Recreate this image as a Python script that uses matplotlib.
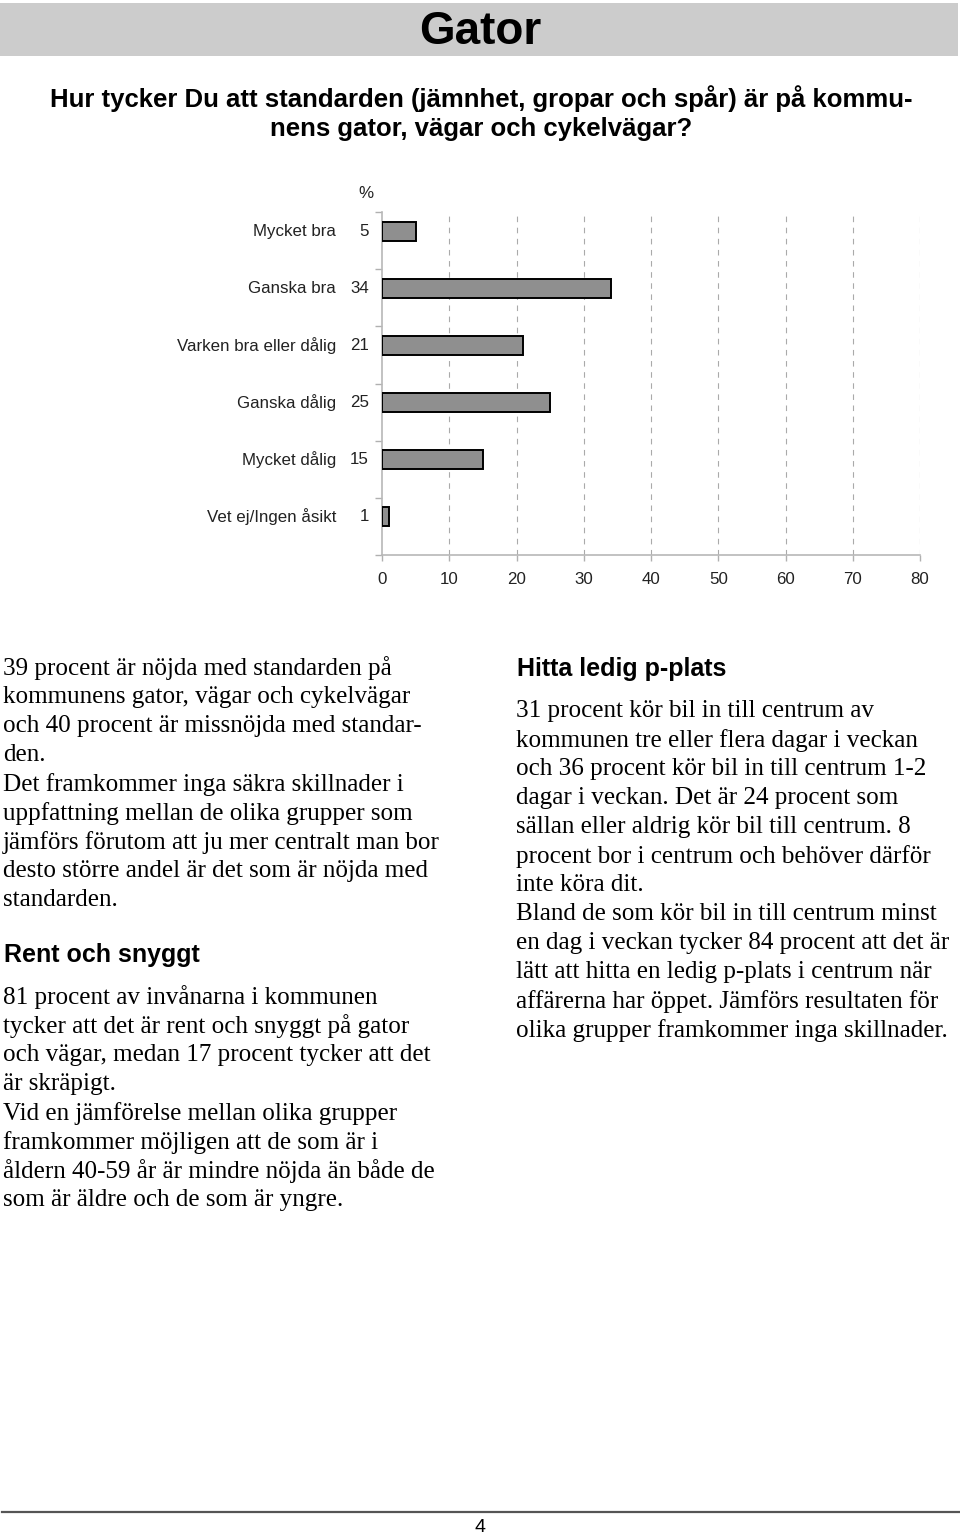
import matplotlib
matplotlib.use("Agg")
import matplotlib.pyplot as plt
from matplotlib.patches import Rectangle
from matplotlib.lines import Line2D
from matplotlib.transforms import blended_transform_factory
from matplotlib import font_manager

W, H = 960, 1537

# ---------------- data ----------------
categories = ["Mycket bra", "Ganska bra", "Varken bra eller dålig",
              "Ganska dålig", "Mycket dålig", "Vet ej/Ingen åsikt"]
values = [5, 34, 21, 25, 15, 1]
xticks = [0, 10, 20, 30, 40, 50, 60, 70, 80]

title = "Gator"
question = ["Hur tycker Du att standarden (jämnhet, gropar och spår) är på kommu-",
            "nens gator, vägar och cykelvägar?"]

left_par1 = ["39 procent är nöjda med standarden på",
             "kommunens gator, vägar och cykelvägar",
             "och 40 procent är missnöjda med standar-",
             "den.",
             "Det framkommer inga säkra skillnader i",
             "uppfattning mellan de olika grupper som",
             "jämförs förutom att ju mer centralt man bor",
             "desto större andel är det som är nöjda med",
             "standarden."]
left_heading = "Rent och snyggt"
left_par2 = ["81 procent av invånarna i kommunen",
             "tycker att det är rent och snyggt på gator",
             "och vägar, medan 17 procent tycker att det",
             "är skräpigt.",
             "Vid en jämförelse mellan olika grupper",
             "framkommer möjligen att de som är i",
             "åldern 40-59 år är mindre nöjda än både de",
             "som är äldre och de som är yngre."]
right_heading = "Hitta ledig p-plats"
right_par = ["31 procent kör bil in till centrum av",
             "kommunen tre eller flera dagar i veckan",
             "och 36 procent kör bil in till centrum 1-2",
             "dagar i veckan. Det är 24 procent som",
             "sällan eller aldrig kör bil till centrum. 8",
             "procent bor i centrum och behöver därför",
             "inte köra dit.",
             "Bland de som kör bil in till centrum minst",
             "en dag i veckan tycker 84 procent att det är",
             "lätt att hitta en ledig p-plats i centrum när",
             "affärerna har öppet. Jämförs resultaten för",
             "olika grupper framkommer inga skillnader."]
page_number = "4"

# ---------------- fonts ----------------
def has_font(name):
    try:
        font_manager.findfont(name, fallback_to_default=False)
        return True
    except Exception:
        return False

if has_font("Liberation Sans Narrow"):
    NARROW, T_SIZE, Q_SIZE = "Liberation Sans Narrow", 37, 21
elif has_font("DejaVu Sans Condensed"):
    NARROW, T_SIZE, Q_SIZE = "DejaVu Sans Condensed", 33, 18
else:
    NARROW, T_SIZE, Q_SIZE = "Liberation Sans", 33, 18.5
SANS = "Liberation Sans"
SERIF = "Liberation Serif"

fig = plt.figure(figsize=(W / 100, H / 100), dpi=100)

def fx(x):
    return x / W

def fy(y):
    return 1 - y / H

# ---------------- header ----------------
fig.patches.append(Rectangle((fx(0), fy(56)), fx(958), 53 / H,
                             transform=fig.transFigure, facecolor="#cccccc",
                             edgecolor="none", zorder=0))
fig.text(fx(480), fy(32), title, family=NARROW, weight="bold", fontsize=T_SIZE,
         ha="center", va="center")
fig.text(fx(481), fy(99), question[0], family=NARROW, weight="bold", fontsize=Q_SIZE,
         ha="center", va="center")
fig.text(fx(481), fy(129), question[1], family=NARROW, weight="bold", fontsize=Q_SIZE,
         ha="center", va="center")

# ---------------- chart ----------------
ax_left, ax_right, ax_top, ax_bottom = 382, 920, 212, 555
ax = fig.add_axes([fx(ax_left), fy(ax_bottom), (ax_right - ax_left) / W,
                   (ax_bottom - ax_top) / H])
n = len(categories)
ypos = list(range(n))
off = 0.166
ax.barh(ypos, values, height=0.33, color="#8f8f8f", edgecolor="black",
        linewidth=1.4, zorder=3)
ax.set_xlim(0, 80)
ax.set_ylim(n - 0.5 + off, -0.5 + off)
ax.set_xticks(xticks)
ax.set_xticklabels([str(t) for t in xticks], family=SANS, fontsize=12.2,
                   color="#222222")
ax.tick_params(axis="x", direction="out", length=4, width=1, color="#b0b0b0",
               pad=8)
ax.set_yticks([i - 0.5 + off for i in range(n + 1)])
ax.set_yticklabels([])
ax.tick_params(axis="y", direction="out", length=5, width=1, color="#b0b0b0")
for s in ["top", "right"]:
    ax.spines[s].set_visible(False)
for s in ["left", "bottom"]:
    ax.spines[s].set_color("#b8b8b8")
    ax.spines[s].set_linewidth(1.2)
for t in xticks[1:]:
    ax.axvline(t, color="#aaaaaa", linestyle=(0, (5, 5)), linewidth=0.8, zorder=1)

tr = blended_transform_factory(fig.transFigure, ax.transData)
for i, (c, v) in enumerate(zip(categories, values)):
    ax.text(fx(336), i, c, transform=tr, ha="right", va="center",
            family=SANS, fontsize=12.2, color="#222222")
    ax.text(fx(369), i, str(v), transform=tr, ha="right", va="center",
            family=SANS, fontsize=12.2, color="#222222")
fig.text(fx(366), fy(193), "%", ha="center", va="center", family=SANS,
         fontsize=12.2, color="#222222")

# ---------------- body text ----------------
BODY = 18.1
LS = 29.05

def draw_lines(lines, x, y0):
    for k, line in enumerate(lines):
        fig.text(fx(x), fy(y0 + k * LS), line, family=SERIF, fontsize=BODY,
                 ha="left", va="center")

draw_lines(left_par1, 3, 668)
fig.text(fx(4), fy(955), left_heading, family=SANS, weight="bold", fontsize=18,
         ha="left", va="center")
draw_lines(left_par2, 3, 997)

fig.text(fx(517), fy(669), right_heading, family=SANS, weight="bold", fontsize=18,
         ha="left", va="center")
draw_lines(right_par, 516, 711)

# ---------------- footer ----------------
fig.lines.append(Line2D([fx(2), fx(960)], [fy(1512), fy(1512)],
                        transform=fig.transFigure, color="#555555", linewidth=1.6))
fig.text(fx(480), fy(1527), page_number, family=SANS, fontsize=14,
         ha="center", va="center")

fig.savefig("out.png", dpi=100)
